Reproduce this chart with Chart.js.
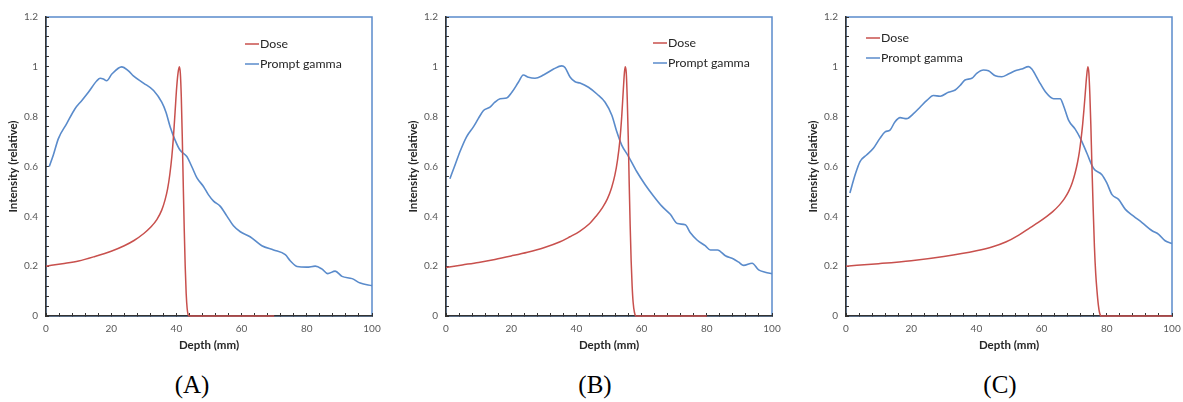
<!DOCTYPE html>
<html>
<head>
<meta charset="utf-8">
<script src="https://cdn.jsdelivr.net/npm/chart.js@4.4.1/dist/chart.umd.min.js"></script>
<style>
  html, body { margin: 0; padding: 0; background: #fff; overflow: hidden; }
  #wrap { position: relative; width: 1183px; height: 402px; overflow: hidden; }
  .panel { position: absolute; top: 0; width: 400px; height: 360px; }
  .panel canvas { display: block; }
  .tag { position: absolute; top: 370px; width: 80px; line-height: 30px; text-align: center;
         font-family: "Liberation Serif", "Times New Roman", serif; font-size: 25px; color: #000; }
</style>
</head>
<body>
<div id="wrap">
  <div class="panel" style="left:0px"><canvas id="chartA" width="400" height="360"></canvas></div>
  <div class="panel" style="left:400px"><canvas id="chartB" width="400" height="360"></canvas></div>
  <div class="panel" style="left:800px"><canvas id="chartC" width="400" height="360"></canvas></div>
  <div class="tag" style="left:152px">(A)</div>
  <div class="tag" style="left:555px">(B)</div>
  <div class="tag" style="left:960px">(C)</div>
</div>
<script>
// ---- data ----
const depthDoseA = [0, 5, 10, 15, 20, 24, 27, 30, 32, 34, 35.5, 36.5, 37.3, 38, 38.6, 39.1, 39.6, 40.1, 40.5, 40.9, 41.2, 41.5, 41.8, 42.1, 42.4, 42.7, 43, 43.3, 43.6, 43.9, 50, 60, 70];
const doseA      = [0.2, 0.21, 0.221, 0.239, 0.26, 0.282, 0.303, 0.331, 0.355, 0.387, 0.425, 0.465, 0.51, 0.57, 0.64, 0.72, 0.82, 0.92, 0.975, 1.0, 0.975, 0.88, 0.72, 0.53, 0.35, 0.2, 0.09, 0.03, 0.005, 0, 0, 0, 0];
const depthGammaA = [1, 2.25, 3.8, 6.35, 8.9, 11, 13, 15.6, 16.6, 17.6, 18.6, 20.2, 23.2, 25.3, 26.8, 29.9, 33, 35.5, 36.8, 38.1, 39.6, 41.1, 43.2, 44.7, 46.3, 48.3, 49.8, 51.4, 53.4, 55.5, 57.5, 59.6, 62.6, 66.2, 69.8, 73.4, 74.9, 77, 80, 82.6, 84.6, 86.4, 88.7, 90.8, 93.9, 96.4, 100];
const gammaA      = [0.6, 0.646, 0.712, 0.772, 0.832, 0.865, 0.898, 0.944, 0.954, 0.951, 0.944, 0.971, 1.0, 0.984, 0.964, 0.935, 0.905, 0.858, 0.818, 0.759, 0.706, 0.666, 0.64, 0.6, 0.554, 0.52, 0.487, 0.461, 0.441, 0.401, 0.362, 0.338, 0.318, 0.282, 0.265, 0.246, 0.222, 0.199, 0.196, 0.2, 0.189, 0.17, 0.18, 0.159, 0.15, 0.132, 0.122];

const depthDoseB = [0, 5, 10, 15, 20, 25, 30, 35, 38, 41, 44, 46, 48, 49.5, 50.8, 51.8, 52.6, 53.3, 53.9, 54.4, 54.75, 55, 55.3, 55.6, 55.9, 56.2, 56.5, 56.8, 57.1, 57.4, 57.8, 58.3, 65, 80];
const doseB      = [0.195, 0.205, 0.215, 0.227, 0.241, 0.256, 0.274, 0.298, 0.318, 0.34, 0.37, 0.4, 0.435, 0.47, 0.515, 0.565, 0.625, 0.7, 0.8, 0.91, 0.98, 1.0, 0.975, 0.87, 0.72, 0.53, 0.36, 0.22, 0.12, 0.055, 0.015, 0, 0, 0];
const depthGammaB = [1.2, 2.8, 4.3, 6.3, 8.4, 9.9, 11.5, 13.5, 15, 16.6, 18.6, 20.2, 22.2, 23.7, 25.3, 27.3, 29.9, 33, 35.5, 36.5, 38.1, 39.6, 41.1, 43.7, 46.3, 48.8, 50.9, 52.4, 53.9, 56, 58.5, 61.1, 63.7, 66.2, 68.8, 71, 73.4, 74.9, 77, 79.5, 81.1, 83.3, 85.7, 88.2, 89.8, 91.3, 93.9, 95.9, 97.9, 100];
const gammaB      = [0.551, 0.607, 0.66, 0.719, 0.759, 0.792, 0.825, 0.838, 0.858, 0.872, 0.875, 0.898, 0.938, 0.967, 0.958, 0.954, 0.967, 0.991, 1.004, 0.997, 0.958, 0.94, 0.935, 0.918, 0.891, 0.858, 0.805, 0.739, 0.686, 0.64, 0.58, 0.527, 0.481, 0.441, 0.408, 0.371, 0.366, 0.335, 0.305, 0.282, 0.265, 0.265, 0.242, 0.229, 0.216, 0.203, 0.212, 0.185, 0.176, 0.17];

const depthDoseC = [0, 10, 20, 30, 40, 45, 49, 53, 56.5, 59, 61.5, 63.5, 65.5, 67, 68.3, 69.4, 70.3, 71, 71.6, 72.1, 72.6, 73, 73.4, 73.8, 74.2, 74.5, 74.8, 75.1, 75.4, 75.8, 76.2, 76.6, 77, 77.4, 77.8, 78.3, 85, 100];
const doseC      = [0.2, 0.21, 0.222, 0.239, 0.262, 0.278, 0.297, 0.325, 0.355, 0.376, 0.399, 0.42, 0.446, 0.471, 0.5, 0.535, 0.575, 0.615, 0.66, 0.71, 0.77, 0.83, 0.895, 0.96, 1.0, 0.975, 0.89, 0.77, 0.62, 0.44, 0.28, 0.17, 0.1, 0.045, 0.012, 0, 0, 0];
const depthGammaC = [1.2, 2.8, 4.3, 6.3, 8.4, 10.4, 12, 13.5, 15, 16.6, 18.6, 20.7, 22.7, 24.8, 26.8, 28.9, 31.4, 33.5, 35, 36.5, 38.6, 40.1, 42.2, 43.7, 45.8, 47.8, 49.8, 51.9, 53.9, 56, 57, 59.1, 61.1, 63.7, 65.7, 66.7, 68.3, 70.3, 71.9, 73.9, 75.9, 78.5, 80, 81.6, 83.6, 85.7, 88.2, 90.8, 93.9, 95.9, 97.9, 100];
const gammaC      = [0.494, 0.567, 0.62, 0.646, 0.673, 0.713, 0.739, 0.746, 0.779, 0.796, 0.792, 0.812, 0.838, 0.865, 0.885, 0.882, 0.898, 0.907, 0.925, 0.947, 0.954, 0.974, 0.987, 0.984, 0.964, 0.96, 0.971, 0.984, 0.991, 1.001, 0.991, 0.944, 0.901, 0.872, 0.872, 0.845, 0.785, 0.75, 0.713, 0.653, 0.593, 0.567, 0.534, 0.487, 0.468, 0.428, 0.401, 0.375, 0.342, 0.328, 0.302, 0.291];

const seriesNames = ['Dose', 'Prompt gamma'];

const doseColor = '#c8504d';
const gammaColor = '#5a8bcb';
const axisColor = '#333333';
const fontFamily = "Lato, 'Liberation Sans', sans-serif";

function toPoints(xs, ys) {
  return xs.map((x, i) => ({ x: x, y: ys[i] }));
}

// blue frame round the plot area
const plotFrame = {
  id: 'plotFrame',
  beforeDraw(chart) {
    const a = chart.chartArea, ctx = chart.ctx;
    ctx.save();
    ctx.strokeStyle = gammaColor;
    ctx.lineWidth = 1.5;
    ctx.strokeRect(a.left, a.top, a.right - a.left, a.bottom - a.top);
    ctx.restore();
  }
};

// small legend drawn inside the plot area
const insideLegend = {
  id: 'insideLegend',
  afterDatasetsDraw(chart, args, opts) {
    const a = chart.chartArea, ctx = chart.ctx;
    ctx.save();
    ctx.font = '12.3px ' + fontFamily;
    ctx.textBaseline = 'middle';
    chart.data.datasets.forEach((ds, i) => {
      const x = a.left + opts.x;
      const y = a.top + opts.y + i * 20;
      ctx.strokeStyle = ds.borderColor;
      ctx.lineWidth = 1.5;
      ctx.beginPath();
      ctx.moveTo(x, y);
      ctx.lineTo(x + 14, y);
      ctx.stroke();
      ctx.fillStyle = '#262626';
      ctx.fillText(ds.label, x + 15, y);
    });
    ctx.restore();
  }
};

function drawPanel(canvasId, dosePts, gammaPts, legendX, legendY) {
  const ctx = document.getElementById(canvasId).getContext('2d');
  return new Chart(ctx, {
    type: 'line',
    data: {
      datasets: [
        {
          label: seriesNames[0],
          data: dosePts,
          borderColor: doseColor,
          borderWidth: 1.5,
          pointRadius: 0,
          cubicInterpolationMode: 'monotone',
          clip: false
        },
        {
          label: seriesNames[1],
          data: gammaPts,
          borderColor: gammaColor,
          borderWidth: 1.6,
          pointRadius: 0,
          cubicInterpolationMode: 'monotone',
          clip: false
        }
      ]
    },
    options: {
      responsive: false,
      animation: false,
      devicePixelRatio: 1,
      layout: { padding: { left: 0, top: 14, right: 28, bottom: 8 } },
      plugins: {
        legend: { display: false },
        tooltip: { enabled: false },
        insideLegend: { x: legendX, y: legendY }
      },
      scales: {
        x: {
          type: 'linear',
          min: 0,
          max: 100,
          border: { color: axisColor, width: 1.5 },
          grid: { drawOnChartArea: false, drawTicks: true, tickLength: -3, tickColor: axisColor, tickWidth: 1 },
          ticks: {
            stepSize: 4,
            autoSkip: false,
            maxRotation: 0,
            padding: 10,
            color: '#595959',
            font: { family: fontFamily, size: 10 },
            callback: v => (v % 20 === 0 ? String(v) : '')
          },
          title: {
            display: true,
            text: 'Depth (mm)',
            color: '#262626',
            font: { family: fontFamily, size: 11.5, weight: 'bold' },
            padding: { top: 0, bottom: 0 }
          },
          afterFit: s => { s.height = 36; }
        },
        y: {
          min: 0,
          max: 1.2,
          border: { color: axisColor, width: 1.5 },
          grid: { drawOnChartArea: false, drawTicks: true, tickLength: -3, tickColor: axisColor, tickWidth: 1 },
          ticks: {
            stepSize: 0.04,
            autoSkip: false,
            padding: 11,
            color: '#595959',
            font: { family: fontFamily, size: 10 },
            callback: v => (Math.abs(v / 0.2 - Math.round(v / 0.2)) < 1e-6 ? String(+v.toFixed(1)) : '')
          },
          title: {
            display: true,
            text: 'Intensity (relative)',
            color: '#262626',
            font: { family: fontFamily, size: 11.5, weight: 'bold' },
            padding: 6
          },
          afterFit: s => { s.width = 46; }
        }
      }
    },
    plugins: [plotFrame, insideLegend]
  });
}

drawPanel('chartA', toPoints(depthDoseA, doseA), toPoints(depthGammaA, gammaA), 199, 27);
drawPanel('chartB', toPoints(depthDoseB, doseB), toPoints(depthGammaB, gammaB), 207, 26);
drawPanel('chartC', toPoints(depthDoseC, doseC), toPoints(depthGammaC, gammaC), 20, 21);
</script>
</body>
</html>
